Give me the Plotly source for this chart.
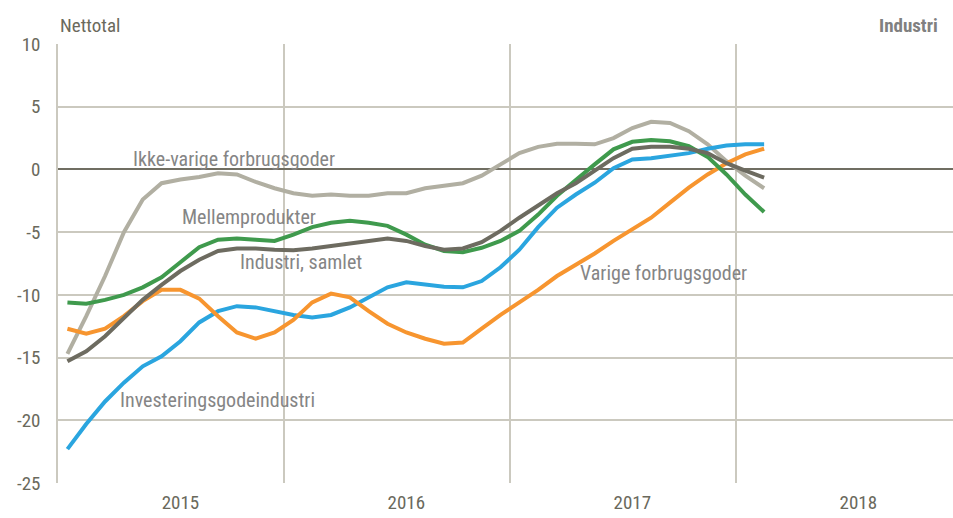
import plotly.graph_objects as go

months = list(range(38))  # Jan 2015 .. Feb 2018 (month index)

year_labels = ["2015", "2016", "2017", "2018"]
year_tick_pos = [6, 18, 30, 42]
year_bounds = [11.5, 23.5, 35.5]
y_ticks = [-25, -20, -15, -10, -5, 0, 5, 10]
y_tick_text = ["-25", "-20", "-15", "-10", "-5", "0", "5", "10"]

ikke_varige = [-14.7, -11.7, -8.5, -5.0, -2.4, -1.1, -0.8, -0.6, -0.3, -0.4, -1.0, -1.5,
               -1.9, -2.1, -2.0, -2.1, -2.1, -1.9, -1.9, -1.5, -1.3, -1.1, -0.5, 0.4,
               1.3, 1.8, 2.05, 2.05, 2.0, 2.5, 3.3, 3.8, 3.7, 3.05, 2.0, 0.66,
               -0.5, -1.5]
mellemprodukter = [-10.6, -10.7, -10.4, -10.0, -9.4, -8.6, -7.4, -6.2, -5.6, -5.5, -5.6, -5.7,
                   -5.2, -4.6, -4.25, -4.1, -4.25, -4.5, -5.2, -6.0, -6.5, -6.6, -6.25, -5.7,
                   -4.9, -3.6, -2.1, -0.8, 0.4, 1.6, 2.2, 2.35, 2.25, 1.85, 1.0, -0.4,
                   -2.0, -3.4]
industri_samlet = [-15.3, -14.5, -13.3, -11.8, -10.4, -9.2, -8.1, -7.2, -6.5, -6.3, -6.3, -6.4,
                   -6.45, -6.3, -6.1, -5.9, -5.7, -5.5, -5.7, -6.1, -6.4, -6.3, -5.8, -4.9,
                   -3.85, -2.9, -1.9, -1.1, -0.1, 0.9, 1.65, 1.8, 1.8, 1.65, 1.3, 0.5,
                   -0.1, -0.65]
investering = [-22.3, -20.3, -18.5, -17.0, -15.7, -14.9, -13.7, -12.2, -11.3, -10.9, -11.0, -11.3,
               -11.6, -11.8, -11.6, -11.0, -10.2, -9.4, -9.0, -9.2, -9.35, -9.4, -8.9, -7.8,
               -6.4, -4.6, -3.05, -2.0, -1.06, 0.1, 0.8, 0.9, 1.1, 1.3, 1.65, 1.9,
               2.0, 2.0]
varige = [-12.7, -13.1, -12.7, -11.7, -10.5, -9.6, -9.6, -10.3, -11.7, -13.0, -13.5, -13.0,
          -12.0, -10.6, -9.9, -10.2, -11.3, -12.3, -13.0, -13.5, -13.9, -13.8, -12.7, -11.6,
          -10.6, -9.6, -8.5, -7.6, -6.7, -5.7, -4.8, -3.85, -2.65, -1.45, -0.4, 0.5,
          1.2, 1.65]

series = [
    ("Ikke-varige forbrugsgoder", ikke_varige, "#b1afa2"),
    ("Investeringsgodeindustri", investering, "#2aa5df"),
    ("Varige forbrugsgoder", varige, "#f7952f"),
    ("Mellemprodukter", mellemprodukter, "#3f9a4d"),
    ("Industri, samlet", industri_samlet, "#6d6b60"),
]

FONT = "Liberation Sans Narrow, Arial Narrow, Roboto Condensed, DejaVu Sans Condensed, sans-serif"
TXT = "#858585"
AX = "#6a695c"
GRID = "#cbc9bf"

fig = go.Figure()
for name, vals, col in series:
    fig.add_trace(go.Scatter(x=months, y=vals, mode="lines", name=name,
                             line=dict(color=col, width=4), showlegend=False,
                             hoverinfo="skip"))

labels = [
    ("Ikke-varige forbrugsgoder", 3.38, 0.8),
    ("Mellemprodukter", 5.98, -3.82),
    ("Industri, samlet", 9.08, -7.41),
    ("Varige forbrugsgoder", 27.13, -8.29),
    ("Investeringsgodeindustri", 2.7, -18.4),
]
for t, x, y in labels:
    fig.add_annotation(x=x, y=y, xref="x", yref="y", text=t, showarrow=False,
                       xanchor="left", yanchor="middle",
                       font=dict(family=FONT, size=20, color=TXT))

fig.add_annotation(x=0, y=1.043, xref="paper", yref="paper", text="Nettotal",
                   showarrow=False, xanchor="left", yanchor="middle",
                   font=dict(family=FONT, size=19, color=AX))
fig.add_annotation(x=0.9855, y=1.043, xref="paper", yref="paper", text="<b>Industri</b>",
                   showarrow=False, xanchor="right", yanchor="middle",
                   font=dict(family=FONT, size=19, color="#808080"))

fig.update_layout(
    width=953, height=518,
    margin=dict(l=58, r=0, t=44, b=35),
    plot_bgcolor="white", paper_bgcolor="white",
    font=dict(family=FONT, size=19, color=AX),
    xaxis=dict(range=[-0.5, 47.03], tickmode="array", tickvals=year_tick_pos,
               ticktext=year_labels, showgrid=False, zeroline=False, automargin=False,
               showline=False, ticks="", ticklabelstandoff=6,
               minor=dict(tickmode="array", tickvals=year_bounds, showgrid=True,
                          gridcolor=GRID, gridwidth=1.5, ticks="")),
    yaxis=dict(range=[-25, 10], tickmode="array", tickvals=y_ticks, ticktext=y_tick_text,
               showgrid=True, gridcolor=GRID, gridwidth=1.5, automargin=False,
               zeroline=True, zerolinecolor="#706e62", zerolinewidth=2,
               showline=True, linecolor=GRID, linewidth=1.5, ticks="",
               ticklabelstandoff=12),
)

fig.write_html("out.html", config={"displayModeBar": False},
               post_script="document.body.style.margin='0';document.body.style.overflow='hidden';")
